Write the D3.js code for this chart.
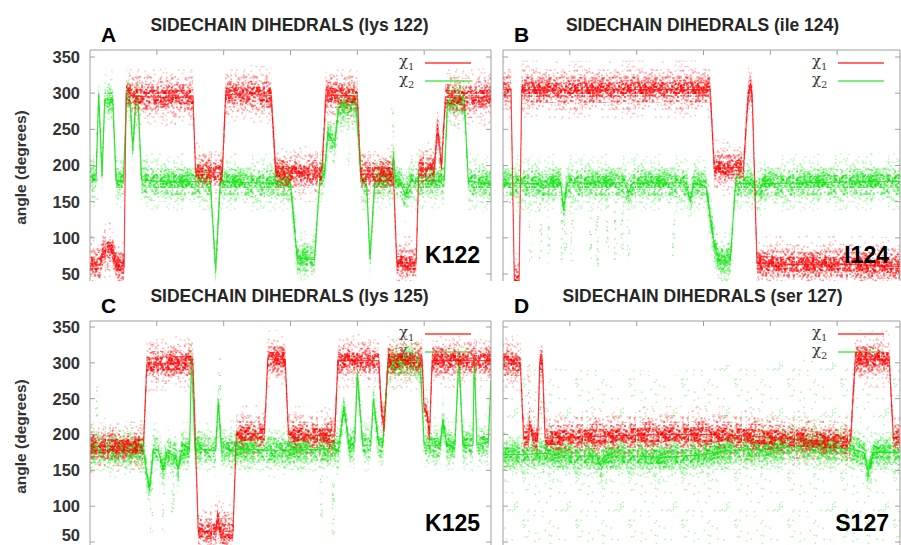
<!DOCTYPE html>
<html>
<head>
<meta charset="utf-8">
<script src="https://cdn.jsdelivr.net/npm/d3@7"></script>
<style>
  body { margin: 0; background: #fff; }
  text { font-family: "Liberation Sans", Arial, sans-serif; }
</style>
</head>
<body>
<div id="chart"></div>
<script>
// Sidechain dihedrals, four residues, chi1 (red) and chi2 (green)
// time in ns, angles in degrees

// lys 122
const lys122chi1 = [[0,65],[0.75,62],[1.0,82],[1.6,85],[2.0,62],[2.55,60],[2.7,300],[3.2,296],[5.5,294],[7.7,295],
  [7.9,192],[9.0,190],[9.9,190],[10.15,298],[12,299],[13.55,297],[13.9,190],[15.5,189],[17.35,190],[17.65,298],
  [20.0,296],[20.25,188],[22.7,188],[22.95,65],[24.4,65],[24.6,195],[25.75,195],[26.0,252],[26.3,200],[26.6,295],
  [28,293],[30,295]];
const lys122chi2 = [[0,185],[0.45,180],[0.65,300],[0.9,185],[1.1,290],[1.7,292],[1.95,180],[2.5,178],[2.75,300],
  [3.0,290],[3.2,222],[3.45,295],[3.6,290],[3.85,180],[6,177],[9.0,178],[9.4,55],[9.75,178],[12,176],[15.0,176],
  [15.5,72],[16.8,70],[17.2,182],[17.55,190],[17.8,245],[18.0,238],[18.3,228],[18.6,280],[19.9,285],[20.3,180],
  [20.7,172],[20.95,70],[21.3,178],[22.6,180],[22.7,215],[22.85,178],[23.2,175],[23.6,160],[24.0,178],[26.5,180],
  [26.75,290],[28.0,290],[28.3,178],[30,175]];

// ile 124
const ile124chi1 = [[0,305],[0.6,305],[0.85,40],[1.2,38],[1.4,305],[5,304],[10,305],[15.5,305],[15.8,196],
  [18.0,198],[18.35,300],[18.5,310],[18.65,295],[19.0,65],[22,63],[25,64],[30,60]];
const ile124chi2 = [[0,176],[2.6,175],[3.0,168],[3.5,176],[4.3,176],[4.55,140],[4.8,176],[9.1,176],[9.4,162],
  [9.7,176],[13.7,176],[14.0,152],[14.3,176],[15.2,170],[15.8,90],[16.2,68],[17.0,68],[17.4,175],[18.5,176],
  [19.0,163],[19.5,175],[25,177],[30,178]];

// lys 125
const lys125chi1 = [[0,183],[4.0,184],[4.25,298],[7.7,300],[8.1,65],[9.4,64],[9.55,85],[9.75,65],[10.7,65],
  [10.95,200],[13.05,202],[13.3,305],[14.6,305],[14.85,200],[18.3,198],[18.55,303],[21.6,303],[21.8,235],
  [22.0,210],[22.3,303],[24.85,303],[25.0,235],[25.2,230],[25.4,200],[25.6,303],[30,303]];
const lys125chi2 = [[0,178],[4.0,178],[4.45,122],[4.75,180],[5.1,178],[5.5,150],[5.75,175],[6.4,170],[6.6,152],
  [6.85,178],[7.45,178],[7.6,310],[7.85,180],[9.4,178],[9.6,245],[9.85,180],[14,178],[18.6,180],[19.0,238],
  [19.4,182],[19.8,190],[20.0,285],[20.4,185],[21.0,185],[21.2,250],[21.6,185],[21.9,185],[22.3,300],[24.7,300],
  [25.0,185],[26.2,185],[26.4,220],[26.7,185],[27.3,185],[27.6,308],[27.9,185],[28.65,185],[28.75,308],
  [28.95,185],[29.8,190],[30,275]];

// ser 127
const ser127chi1 = [[0,300],[1.3,298],[1.55,195],[1.9,195],[2.0,215],[2.3,192],[2.6,192],[2.75,300],[2.95,300],
  [3.15,195],[5,196],[8,198],[12,200],[16,200],[20,196],[23,192],[26.0,190],[26.35,305],[28.9,305],[29.2,195],
  [30,197]];
const ser127chi2 = [[0,172],[1.5,172],[3,174],[5,170],[7.0,170],[7.3,157],[7.6,170],[10,170],[12,168],[15,172],
  [17,178],[20,180],[22.5,185],[24,182],[26,180],[27.0,175],[27.35,148],[27.7,175],[30,175]];

// sparse vertical streaks of outlying frames: [t, low, high]
const lys122streaks = [[0.5,150,250],[19.3,200,270],[22.65,190,290]];
const ile124streaks = [[2.06,60,150],[2.81,70,140],[3.43,60,130],[4.43,60,150],[4.68,80,140],[5.17,60,150],
  [6.54,70,140],[7.04,60,130],[7.79,80,150],[8.41,60,140],[8.9,70,150],[9.4,60,130],[12.76,70,140]];
const lys125streaks = [[0.5,200,280],[4.6,60,180],[5.49,60,170],[6.2,90,170],[9.7,180,310],[17.3,80,150],[18.2,60,140]];
const ser127streaks = [[1.95,200,300],[2.8,200,310]];

const angleTicks = [50, 100, 150, 200, 250, 300, 350];
const timeTicks = [0, 5, 10, 15, 20, 25, 30];

const width = 901, height = 545;

const panels = [
  { letter: "A", title: "SIDECHAIN DIHEDRALS (lys 122)", tag: "K122", chi1: lys122chi1, chi2: lys122chi2, streaks: lys122streaks,
    left: 90, right: 491, frameRight: 491, top: 50, bottom: 281, y350: 57, y50: 274, labels: true, halo: null },
  { letter: "B", title: "SIDECHAIN DIHEDRALS (ile 124)", tag: "I124", chi1: ile124chi1, chi2: ile124chi2, streaks: ile124streaks,
    left: 503, right: 904, frameRight: 900, top: 50, bottom: 281, y350: 57, y50: 274, labels: false, halo: null },
  { letter: "C", title: "SIDECHAIN DIHEDRALS (lys 125)", tag: "K125", chi1: lys125chi1, chi2: lys125chi2, streaks: lys125streaks,
    left: 90, right: 491, frameRight: 491, top: 321, bottom: 546, y350: 327, y50: 542, labels: true, halo: null },
  { letter: "D", title: "SIDECHAIN DIHEDRALS (ser 127)", tag: "S127", chi1: ser127chi1, chi2: ser127chi2, streaks: ser127streaks,
    left: 503, right: 904, frameRight: 900, top: 321, bottom: 546, y350: 327, y50: 542, labels: false, halo: [140, 120] }
];

const svg = d3.select("#chart").append("svg")
  .attr("width", width).attr("height", height)
  .attr("viewBox", [0, 0, width, height]);

const defs = svg.append("defs");

defs.append("filter").attr("id", "soft")
  .append("feGaussianBlur").attr("stdDeviation", 0.35);

// speckle texture for the clouds of frames (a fixed hash, only a fill texture)
const TW = 53, TH = 47;
const hash = k => { const s = Math.sin(k * 127.1 + 311.7) * 43758.5453; return s - Math.floor(s); };
function makePattern(id, color, n, start, size) {
  const pts = d3.range(start, start + n).map(k => [hash(k) * TW, hash(k + 0.37) * TH]);
  const p = defs.append("pattern")
    .attr("id", id)
    .attr("patternUnits", "userSpaceOnUse")
    .attr("width", TW).attr("height", TH);
  p.selectAll("rect")
    .data(pts)
    .join("rect")
    .attr("x", d => d[0]).attr("y", d => d[1])
    .attr("width", size).attr("height", size)
    .attr("fill", color);
}
makePattern("red-l0", "rgba(255,120,120,0.45)", 70, 0, 1.6);
makePattern("red-l1", "rgba(255,80,80,0.5)", 170, 300, 1.7);
makePattern("red-l2", "rgba(255,40,40,0.6)", 340, 700, 1.8);
makePattern("red-l3", "rgba(255,0,0,0.65)", 620, 1300, 1.8);
makePattern("green-l0", "rgba(120,245,120,0.45)", 70, 2000, 1.6);
makePattern("green-l1", "rgba(80,240,80,0.5)", 170, 2400, 1.7);
makePattern("green-l2", "rgba(40,235,40,0.6)", 340, 2800, 1.8);
makePattern("green-l3", "rgba(10,225,10,0.6)", 560, 3400, 1.8);
makePattern("green-halo", "rgba(90,232,90,0.55)", 40, 4000, 1.4);
makePattern("green-streak", "rgba(90,232,90,0.7)", 160, 4200, 1.4);
makePattern("red-streak", "rgba(255,80,80,0.7)", 200, 4600, 1.4);

const layers = [40, 28, 18, 10];

panels.forEach((p, i) => {
  const x = d3.scaleLinear().domain([0, 30]).range([p.left, p.right]);
  const y = d3.scaleLinear().domain([50, 350]).range([p.y50, p.y350]);

  const g = svg.append("g");

  // title and panel letter
  g.append("text")
    .attr("x", (p.left + p.right) / 2 - 1)
    .attr("y", p.top - 19)
    .attr("text-anchor", "middle")
    .attr("font-size", 17.5).attr("font-weight", "bold")
    .attr("fill", "#262626")
    .text(p.title);
  g.append("text")
    .attr("x", p.left + 11)
    .attr("y", p.top - 8)
    .attr("font-size", 21).attr("font-weight", "bold")
    .attr("fill", "#000")
    .text(p.letter);

  // legend goes first, data is drawn over it
  const key = g.append("g");
  [["1", "#ff6a6a", 13], ["2", "#7cf07c", 31]].forEach(([n, c, dy]) => {
    key.append("line")
      .attr("x1", p.right - 66).attr("x2", p.right - 20)
      .attr("y1", p.top + dy).attr("y2", p.top + dy)
      .attr("stroke", c).attr("stroke-width", 2);
    const t = key.append("text")
      .attr("x", p.right - 92).attr("y", p.top + dy + 3)
      .style("font-family", "'DejaVu Serif', 'Liberation Serif', serif")
      .attr("font-size", 15).attr("fill", "#3a3a3a");
    t.append("tspan").text("χ");
    t.append("tspan").attr("font-size", 10).attr("dy", 4).text(n);
  });

  const clipId = "clip" + i;
  defs.append("clipPath").attr("id", clipId)
    .append("rect")
    .attr("x", p.left).attr("y", p.top)
    .attr("width", p.frameRight - p.left).attr("height", p.bottom - p.top);

  const plot = g.append("g").attr("clip-path", `url(#${clipId})`)
    .append("g").attr("filter", "url(#soft)");

  const band = (s0, s1) => d3.area()
    .x(d => x(d[0]))
    .y0(d => y(d[1] - s0))
    .y1(d => y(d[1] + s1));
  const line = d3.line().x(d => x(d[0])).y(d => y(d[1]));

  if (p.halo) {
    plot.append("path")
      .attr("d", band(p.halo[0], p.halo[1])(p.chi2))
      .attr("fill", "url(#green-halo)");
  }

  plot.selectAll(".streak")
    .data(p.streaks)
    .join("rect")
    .attr("class", "streak")
    .attr("x", d => x(d[0]) - 1.5)
    .attr("width", 3)
    .attr("y", d => y(d[2]))
    .attr("height", d => y(d[1]) - y(d[2]))
    .attr("fill", i === 3 ? "url(#red-streak)" : "url(#green-streak)");

  const series = [["green", p.chi2, "#22dd22"], ["red", p.chi1, "#ff3030"]];

  // outer clouds, then the running lines, then the dense cores over them
  series.forEach(([col, data]) => {
    [0, 1].forEach(k => {
      plot.append("path").attr("d", band(layers[k], layers[k])(data)).attr("fill", `url(#${col}-l${k})`);
    });
  });
  series.forEach(([col, data, stroke]) => {
    plot.append("path")
      .attr("d", line(data))
      .attr("fill", "none").attr("stroke", stroke)
      .attr("stroke-width", 1.2).attr("stroke-opacity", 0.85);
  });
  series.forEach(([col, data]) => {
    [2, 3].forEach(k => {
      plot.append("path").attr("d", band(layers[k], layers[k])(data)).attr("fill", `url(#${col}-l${k})`);
    });
  });

  // frame
  const frame = g.append("g").attr("stroke", "#a0a0a0").attr("stroke-width", 1);
  frame.append("line").attr("x1", p.left).attr("x2", p.left).attr("y1", p.top).attr("y2", p.bottom);
  frame.append("line").attr("x1", p.frameRight).attr("x2", p.frameRight).attr("y1", p.top).attr("y2", p.bottom);
  frame.append("line").attr("x1", p.left).attr("x2", p.frameRight).attr("y1", p.top).attr("y2", p.top);

  // inward ticks, mirrored like gnuplot
  frame.selectAll(".yl").data(angleTicks).join("line")
    .attr("x1", p.left).attr("x2", p.left + 5)
    .attr("y1", d => y(d)).attr("y2", d => y(d));
  frame.selectAll(".yr").data(angleTicks).join("line")
    .attr("x1", p.frameRight).attr("x2", p.frameRight - 5)
    .attr("y1", d => y(d)).attr("y2", d => y(d));
  frame.selectAll(".xt").data(timeTicks.filter(t => x(t) < p.frameRight - 1 && t > 0)).join("line")
    .attr("x1", d => x(d)).attr("x2", d => x(d))
    .attr("y1", p.top).attr("y2", p.top + 5);

  if (p.labels) {
    g.selectAll(".ylab").data(angleTicks).join("text")
      .attr("x", p.left - 10)
      .attr("y", d => Math.min(y(d), height - 10))
      .attr("dy", "0.36em")
      .attr("text-anchor", "end")
      .attr("font-size", 16.5).attr("font-weight", "bold")
      .attr("fill", "#333")
      .text(d => d);
    g.append("text")
      .attr("transform", `translate(26,${(y(100) + y(300)) / 2 + 2}) rotate(-90)`)
      .attr("text-anchor", "middle")
      .attr("font-size", 15.5).attr("font-weight", "bold")
      .attr("fill", "#333")
      .text("angle (degrees)");
  }

  // residue tag in the corner
  g.append("text")
    .attr("x", p.frameRight - 11)
    .attr("y", p.y50 - 11)
    .attr("text-anchor", "end")
    .attr("font-size", 23).attr("font-weight", "bold")
    .attr("fill", "#000")
    .text(p.tag);
});
</script>
</body>
</html>
